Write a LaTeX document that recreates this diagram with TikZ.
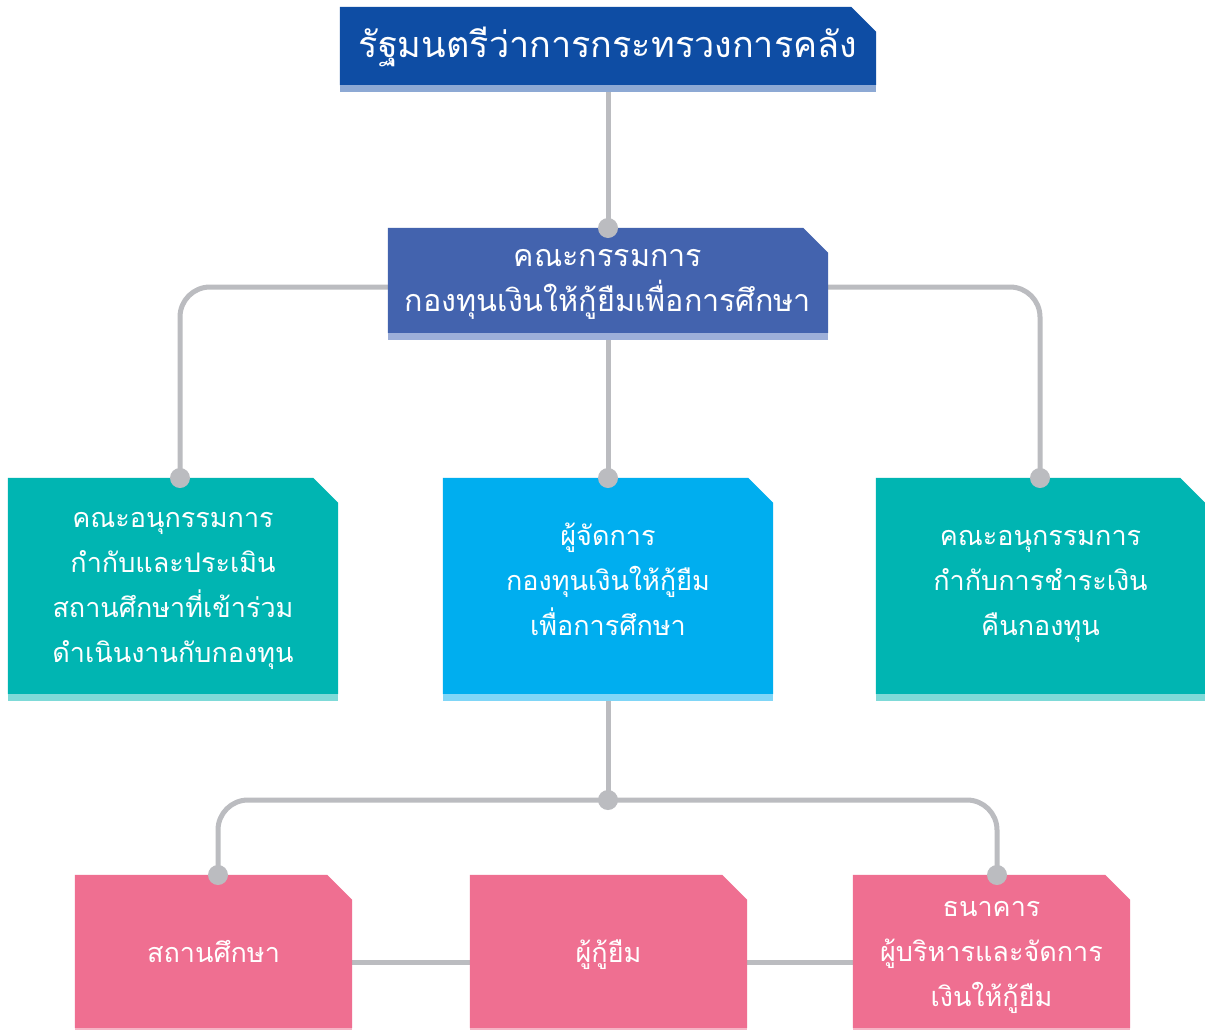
\documentclass[tikz,border=0pt]{standalone}
\usepackage{fontspec}
\newfontfamily\thaifont[Script=Thai]{Loma}
\pgfdeclarelayer{bglayer}
\pgfdeclarelayer{connlayer}
\pgfdeclarelayer{filllayer}
\pgfsetlayers{bglayer,connlayer,filllayer,main}
\definecolor{topblue}{HTML}{0E4DA4}
\definecolor{topstripe}{HTML}{8DA9D4}
\definecolor{comblue}{HTML}{4363AE}
\definecolor{comstripe}{HTML}{9DAFD9}
\definecolor{teal}{HTML}{00B5B2}
\definecolor{tealstripe}{HTML}{7FDAD8}
\definecolor{skyblue}{HTML}{00AEEF}
\definecolor{skystripe}{HTML}{80D6F7}
\definecolor{pink}{HTML}{EF6F91}
\definecolor{pinkstripe}{HTML}{F5B5C6}
\definecolor{conngray}{HTML}{BBBCC0}
\tikzset{
  card/.style={inner sep=0pt},
  cardtext/.style={inner sep=0pt, align=center, text=white, font=\thaifont\fontsize{27}{45}\selectfont},
  comtext/.style={cardtext, font=\thaifont\fontsize{30.5}{45}\selectfont},
  titletext/.style={cardtext, font=\thaifont\fontsize{36}{45}\selectfont},
  dot/.style={circle, fill=conngray, inner sep=0pt, minimum size=20pt},
  conn/.style={draw=conngray, line width=5pt, rounded corners=30pt},
}
\newcommand\cardshape[4]{%
  \begin{pgfonlayer}{filllayer}
    \fill[#2] (#1.south west) -- (#1.north west) -- ([xshift=-25pt]#1.north east) -- ([yshift=-25pt]#1.north east) -- (#1.south east) -- cycle;
    \fill[#3] (#1.south west) rectangle ([yshift=-#4]#1.south east);
  \end{pgfonlayer}}
\begin{document}
\begin{tikzpicture}[x=1pt,y=-1pt]
\begin{pgfonlayer}{bglayer}
\fill[white] (0,0) rectangle (1205,1031);
\end{pgfonlayer}
\useasboundingbox (0,0) rectangle (1205,1031);
% boxes
\node[card, minimum width=536pt, minimum height=78pt,
  label={[titletext, yshift=-1pt]center:รัฐมนตรีว่าการกระทรวงการคลัง}] (top) at (608,46) {};
\cardshape{top}{topblue}{topstripe}{7pt}
\node[card, minimum width=440pt, minimum height=105pt,
  label={[comtext, yshift=-4pt]center:{คณะกรรมการ\\กองทุนเงินให้กู้ยืมเพื่อการศึกษา}}] (com) at (608,280.5) {};
\cardshape{com}{comblue}{comstripe}{7pt}
\node[card, minimum width=330pt, minimum height=216pt,
  label={[cardtext, yshift=-5pt]center:{คณะอนุกรรมการ\\กำกับและประเมิน\\สถานศึกษาที่เข้าร่วม\\ดำเนินงานกับกองทุน}}] (L) at (173,586) {};
\cardshape{L}{teal}{tealstripe}{7pt}
\node[card, minimum width=330pt, minimum height=216pt,
  label={[cardtext, yshift=7pt]center:{ผู้จัดการ\\กองทุนเงินให้กู้ยืม\\เพื่อการศึกษา}}] (M) at (608,586) {};
\cardshape{M}{skyblue}{skystripe}{7pt}
\node[card, minimum width=329pt, minimum height=216pt,
  label={[cardtext]center:{คณะอนุกรรมการ\\กำกับการชำระเงิน\\คืนกองทุน}}] (R) at (1040.5,586) {};
\cardshape{R}{teal}{tealstripe}{7pt}
\node[card, minimum width=277pt, minimum height=153pt,
  label={[cardtext]center:สถานศึกษา}] (BL) at (213.5,951.5) {};
\cardshape{BL}{pink}{pinkstripe}{2pt}
\node[card, minimum width=277pt, minimum height=153pt,
  label={[cardtext, yshift=-3pt]center:ผู้กู้ยืม}] (BM) at (608.5,951.5) {};
\cardshape{BM}{pink}{pinkstripe}{2pt}
\node[card, minimum width=277pt, minimum height=153pt,
  label={[cardtext, yshift=-6pt]center:{ธนาคาร\\ผู้บริหารและจัดการ\\เงินให้กู้ยืม}}] (BR) at (991.5,951.5) {};
\cardshape{BR}{pink}{pinkstripe}{2pt}
% dots
\node[dot] (d1) at (608,228) {};
\node[dot] (dL) at (180,478) {};
\node[dot] (dM) at (608,478) {};
\node[dot] (dR) at (1040,478) {};
\node[dot] (dB) at (608,800) {};
\node[dot] (dBL) at (218,875) {};
\node[dot] (dBR) at (997,875) {};
% connectors
\begin{pgfonlayer}{connlayer}
  \draw[conn] (top.south) -- (d1.center);
  \draw[conn] ([yshift=-6.5pt]com.center) -| (dL.center);
  \draw[conn] ([yshift=-6.5pt]com.center) -| (dR.center);
  \draw[conn] (com.south) -- (dM.center);
  \draw[conn] (M.south) -- (dB.center);
  \draw[conn] (dB.center) -| (dBL.center);
  \draw[conn] (dB.center) -| (dBR.center);
  \draw[conn] ([yshift=-10.5pt]BL.center) -- ([yshift=-10.5pt]BM.center);
  \draw[conn] ([yshift=-10.5pt]BM.center) -- ([yshift=-10.5pt]BR.center);
\end{pgfonlayer}
\end{tikzpicture}
\end{document}
